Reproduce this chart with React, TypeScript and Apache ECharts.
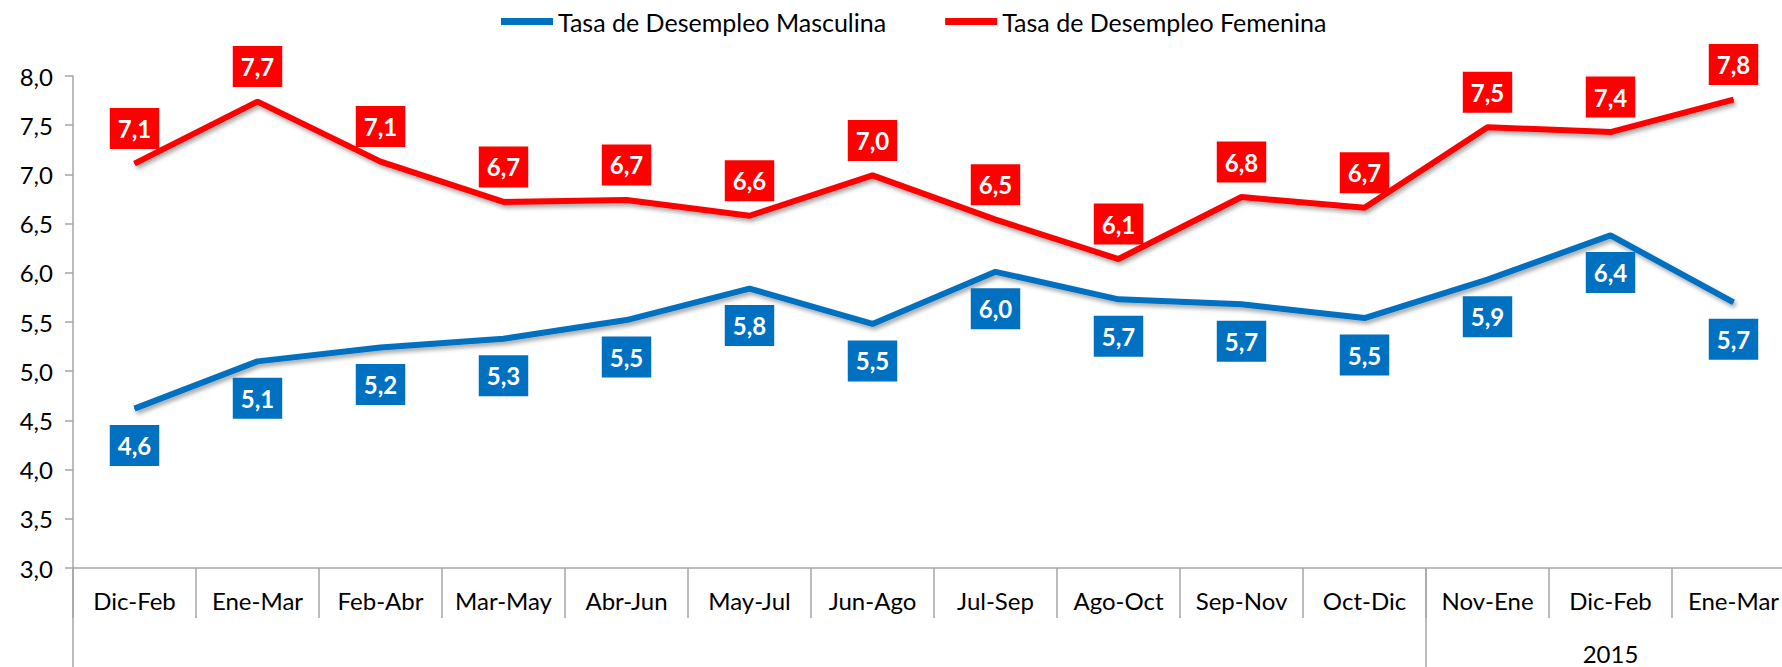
import React, { useEffect, useRef } from "react";
import * as echarts from "echarts";

const categories = [
  "Dic-Feb", "Ene-Mar", "Feb-Abr", "Mar-May", "Abr-Jun", "May-Jul", "Jun-Ago",
  "Jul-Sep", "Ago-Oct", "Sep-Nov", "Oct-Dic", "Nov-Ene", "Dic-Feb", "Ene-Mar",
];
const yearLabels = ["", "", "", "", "", "", "", "", "", "", "", "", "2015", ""];
const masculina = [4.62, 5.10, 5.24, 5.33, 5.52, 5.84, 5.48, 6.01, 5.73, 5.68, 5.54, 5.93, 6.38, 5.70];
const femenina = [7.11, 7.74, 7.13, 6.72, 6.74, 6.58, 6.99, 6.54, 6.14, 6.77, 6.66, 7.48, 7.43, 7.76];
const seriesNames = ["Tasa de Desempleo Masculina", "Tasa de Desempleo Femenina"];

const BLUE = "#0070C0";
const RED = "#FF0000";
const AXIS = "#A6A6A6";
const FONT = "Lato";

const fmt = (v: number) => v.toFixed(1).replace(".", ",");

export default function App() {
  const ref = useRef<HTMLDivElement>(null);
  useEffect(() => {
    if (!ref.current) return;
    const chart = echarts.init(ref.current, undefined, { renderer: "svg" });
    const labelBase = {
      show: true,
      color: "#fff",
      fontFamily: FONT,
      fontWeight: "bold" as const,
      fontSize: 24,
      lineHeight: 25,
      padding: [8, 8, 8, 8],
      formatter: (p: any) => fmt(p.value),
    };
    const lineShadow = {
      shadowColor: "rgba(0,0,0,0.35)",
      shadowBlur: 4,
      shadowOffsetX: 2,
      shadowOffsetY: 3,
    };
    chart.setOption({
      animation: false,
      textStyle: { fontFamily: FONT },
      legend: {
        left: 501,
        top: 9,
        padding: 0,
        itemGap: 59,
        itemWidth: 52,
        itemHeight: 7,
        icon: "rect",
        textStyle: { fontFamily: FONT, fontSize: 25, color: "#000" },
        data: seriesNames,
      },
      grid: { left: 73, right: 0, top: 76, bottom: 99, containLabel: false },
      xAxis: [
        {
          type: "category",
          data: categories,
          boundaryGap: true,
          axisLine: { show: true, lineStyle: { color: AXIS, width: 1.5 } },
          axisTick: { show: true, interval: 0, length: 50, lineStyle: { color: AXIS, width: 1.5 } },
          axisLabel: { interval: 0, margin: 20, color: "#000", fontFamily: FONT, fontSize: 24 },
          splitLine: { show: false },
        },
        {
          type: "category",
          data: yearLabels,
          position: "bottom",
          boundaryGap: true,
          axisLine: { show: false },
          axisTick: {
            show: true,
            length: 99,
            interval: (i: number) => i === 0 || i === 11,
            lineStyle: { color: AXIS, width: 1.5 },
          },
          axisLabel: { interval: 0, margin: 73, color: "#000", fontFamily: FONT, fontSize: 24 },
          splitLine: { show: false },
        },
      ],
      yAxis: {
        type: "value",
        min: 3,
        max: 8,
        interval: 0.5,
        axisLine: { show: true, lineStyle: { color: AXIS, width: 1.5 } },
        axisTick: { show: true, length: 8, lineStyle: { color: AXIS, width: 1.5 } },
        axisLabel: { margin: 20, color: "#000", fontFamily: FONT, fontSize: 24, formatter: (v: number) => fmt(v) },
        splitLine: { show: false },
      },
      series: [
        {
          name: seriesNames[0],
          type: "line",
          data: masculina,
          symbol: "circle",
          symbolSize: 1,
          itemStyle: { color: BLUE },
          lineStyle: { color: BLUE, width: 6, ...lineShadow },
          label: { ...labelBase, position: "bottom", distance: 16, backgroundColor: BLUE },
          z: 3,
        },
        {
          name: seriesNames[1],
          type: "line",
          data: femenina,
          symbol: "circle",
          symbolSize: 1,
          itemStyle: { color: RED },
          lineStyle: { color: RED, width: 6, ...lineShadow },
          label: { ...labelBase, position: "top", distance: 14, backgroundColor: RED },
          z: 4,
        },
      ],
    });
    return () => chart.dispose();
  }, []);
  return (
    <div style={{ position: "fixed", left: 0, top: 0, width: 1782, height: 667, overflow: "hidden", background: "#fff" }}>
      <div ref={ref} style={{ width: 1795, height: 667 }} />
    </div>
  );
}
